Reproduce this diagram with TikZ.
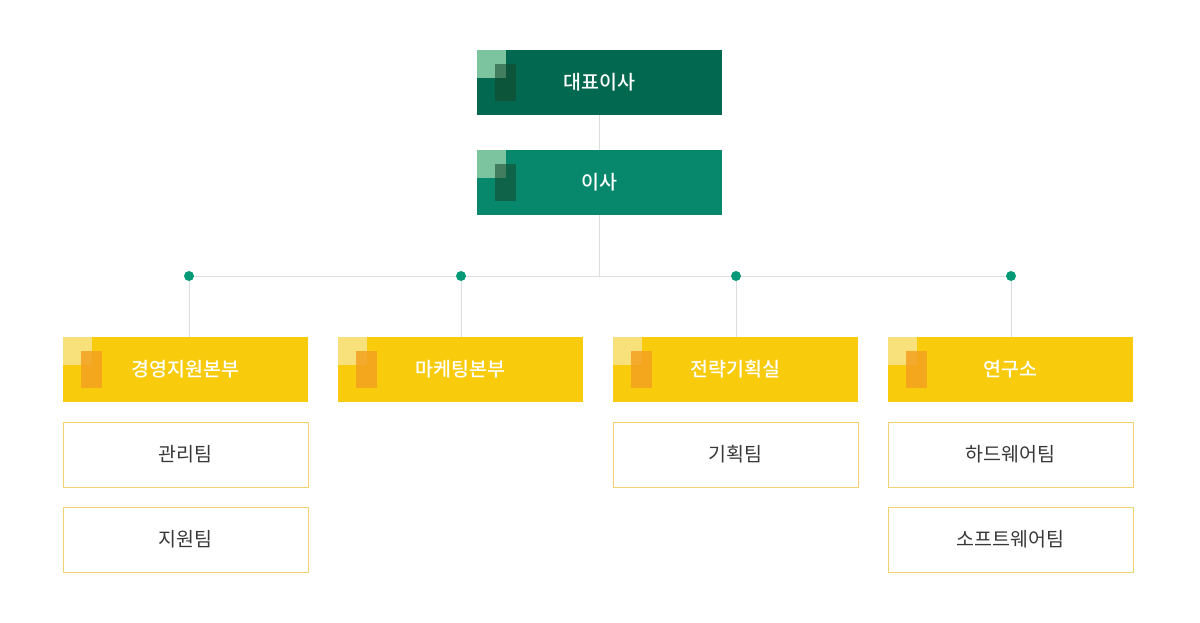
\documentclass[tikz,border=0pt]{standalone}
\usepackage{fontspec}
\setmainfont{Noto Sans CJK KR}
\newfontfamily\headfont{Noto Sans CJK KR Medium}
\usetikzlibrary{positioning,calc}

\definecolor{ceogreen}{HTML}{02684F}
\definecolor{dirgreen}{HTML}{07886D}
\definecolor{minttop}{HTML}{7CC3A0}
\definecolor{mintdark}{HTML}{15452A}
\definecolor{headyellow}{HTML}{F8CB0D}
\definecolor{lightyellow}{HTML}{F8E07A}
\definecolor{deepyellow}{HTML}{F4A11F}
\definecolor{teamline}{HTML}{F2D270}
\definecolor{linkgray}{HTML}{DDDDDD}
\definecolor{dotgreen}{HTML}{079A78}
\definecolor{teamtext}{HTML}{383838}

\tikzset{
  orgbox/.style={minimum width=245pt, minimum height=65pt, inner sep=0pt, outer sep=0pt},
  greenbox/.style={orgbox, font=\headfont\fontsize{19.5}{22}\selectfont, text=white},
  headbox/.style={orgbox, fill=headyellow, font=\headfont\fontsize{19.5}{22}\selectfont, text=white},
  teambox/.style={orgbox, draw=teamline, line width=1pt, fill=white, font=\fontsize{19.5}{22}\selectfont, text=teamtext},
  link/.style={draw=linkgray, line width=1pt},
  joint/.style={circle, fill=dotgreen, minimum size=10pt, inner sep=0pt}
}

\begin{document}
\begin{tikzpicture}[x=1pt, y=-1pt, node distance=20pt]
  \fill[white] (0,0) rectangle (1200,623);
  \useasboundingbox (0,0) rectangle (1200,623);

  % top of the chart
  \node (ceo) [greenbox, fill=ceogreen] at (599.5,82.5) {대표이사};
  \node (dir) [greenbox, fill=dirgreen] at (599.5,182.5) {이사};

  % departments
  \node (mgmt) [headbox] at (185.5,369.5) {경영지원본부};
  \node (mkt)  [headbox] at (460.5,369.5) {마케팅본부};
  \node (plan) [headbox] at (735.5,369.5) {전략기획실};
  \node (lab)  [headbox] at (1010.5,369.5) {연구소};

  % teams
  \node (admin) [teambox, below=of mgmt] {관리팀};
  \node (supp)  [teambox, below=of admin] {지원팀};
  \node (pteam) [teambox, below=of plan] {기획팀};
  \node (hw)    [teambox, below=of lab] {하드웨어팀};
  \node (sw)    [teambox, below=of hw] {소프트웨어팀};

  % corner marks
  \foreach \b in {ceo,dir}{
    \fill[minttop] (\b.north west) rectangle ++(29,28);
    \fill[mintdark, opacity=0.55] ($(\b.north west)+(18,14)$) rectangle ++(21,37);
  }
  \foreach \b in {mgmt,mkt,plan,lab}{
    \fill[lightyellow] (\b.north west) rectangle ++(29,28);
    \fill[deepyellow, opacity=0.85] ($(\b.north west)+(18,14)$) rectangle ++(21,37);
  }

  % links
  \coordinate (hub) at (599.5,276);
  \coordinate (j1) at (189,276);
  \coordinate (j2) at (461,276);
  \coordinate (j3) at (736,276);
  \coordinate (j4) at (1011,276);
  \draw[link] (ceo.south) -- (dir.north);
  \draw[link] (dir.south) -- (hub);
  \draw[link] (j1) -- (j4);
  \draw[link] (j1) -- (j1 |- mgmt.north);
  \draw[link] (j2) -- (j2 |- mkt.north);
  \draw[link] (j3) -- (j3 |- plan.north);
  \draw[link] (j4) -- (j4 |- lab.north);
  \foreach \j in {j1,j2,j3,j4}
    \node [joint] at (\j) {};
\end{tikzpicture}
\end{document}
